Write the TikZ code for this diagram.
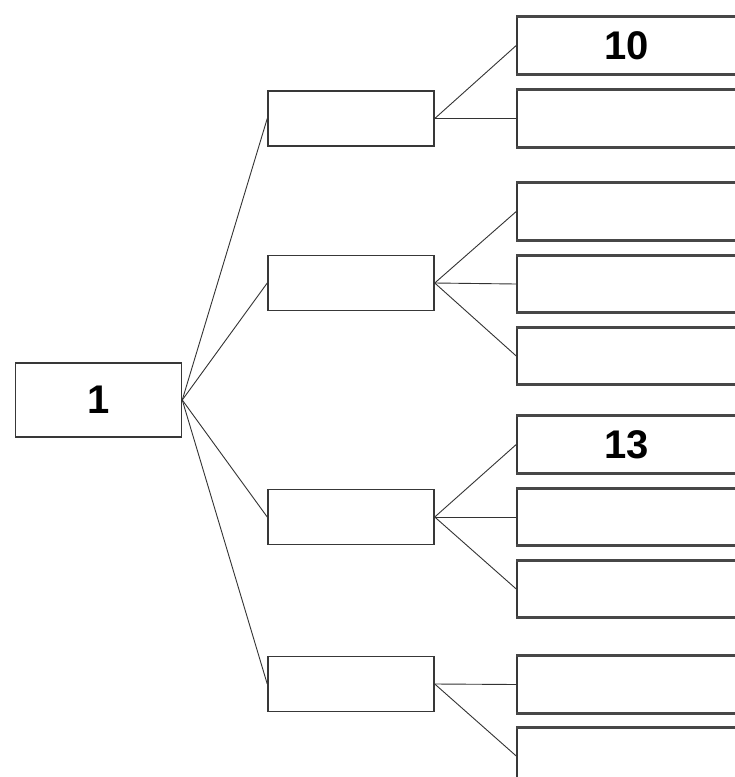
\documentclass[tikz,border=0pt]{standalone}
\usepackage{fontspec}
\setmainfont{Liberation Sans}
\begin{document}
\begin{tikzpicture}[x=1pt,y=-1pt,
  box/.style={draw=black!78,line width=1.5pt,rectangle,inner sep=0pt,
    font=\fontsize{40}{40}\selectfont\bfseries},
  rootbox/.style={box,minimum width=166pt,minimum height=74pt},
  midbox/.style={box,minimum width=166pt,minimum height=55pt},
  leafbox/.style={box,minimum width=220pt,minimum height=56pt},
  edge/.style={draw=black!80,line width=0.9pt},
  rim/.style={draw=black!72,line width=3pt}]
\useasboundingbox (0,0) rectangle (735,777);
\clip (0,0) rectangle (735,777);
\fill[white] (0,0) rectangle (735,777);
% root
\node[rootbox] (root) at (98.5,400) {1};
% middle level
\node[midbox] (a) at (351,118.5) {};
\node[midbox] (b) at (351,283) {};
\node[midbox] (c) at (351,517) {};
\node[midbox] (d) at (351,684) {};
% leaves
\node[leafbox] (r1) at (627,45.5) {10};
\node[leafbox] (r2) at (627,118.5) {};
\node[leafbox] (r3) at (627,211.5) {};
\node[leafbox] (r4) at (627,284) {};
\node[leafbox] (r5) at (627,356) {};
\node[leafbox] (r6) at (627,444.5) {13};
\node[leafbox] (r7) at (627,517) {};
\node[leafbox] (r8) at (627,589) {};
\node[leafbox] (r9) at (627,684.5) {};
\node[leafbox] (r10) at (627,756) {};
% thicker top and bottom rims of the leaf boxes
\foreach \n in {r1,r2,r3,r4,r5,r6,r7,r8,r9,r10}{
  \draw[rim] (\n.north west) -- (\n.north east);
  \draw[rim] (\n.south west) -- (\n.south east);
}
% connectors
\foreach \m in {a,b,c,d}{\draw[edge] (root.east) -- (\m.west);}
\draw[edge] (a.east) -- (r1.west);
\draw[edge] (a.east) -- (r2.west);
\draw[edge] (b.east) -- (r3.west);
\draw[edge] (b.east) -- (r4.west);
\draw[edge] (b.east) -- (r5.west);
\draw[edge] (c.east) -- (r6.west);
\draw[edge] (c.east) -- (r7.west);
\draw[edge] (c.east) -- (r8.west);
\draw[edge] (d.east) -- (r9.west);
\draw[edge] (d.east) -- (r10.west);
\end{tikzpicture}
\end{document}
